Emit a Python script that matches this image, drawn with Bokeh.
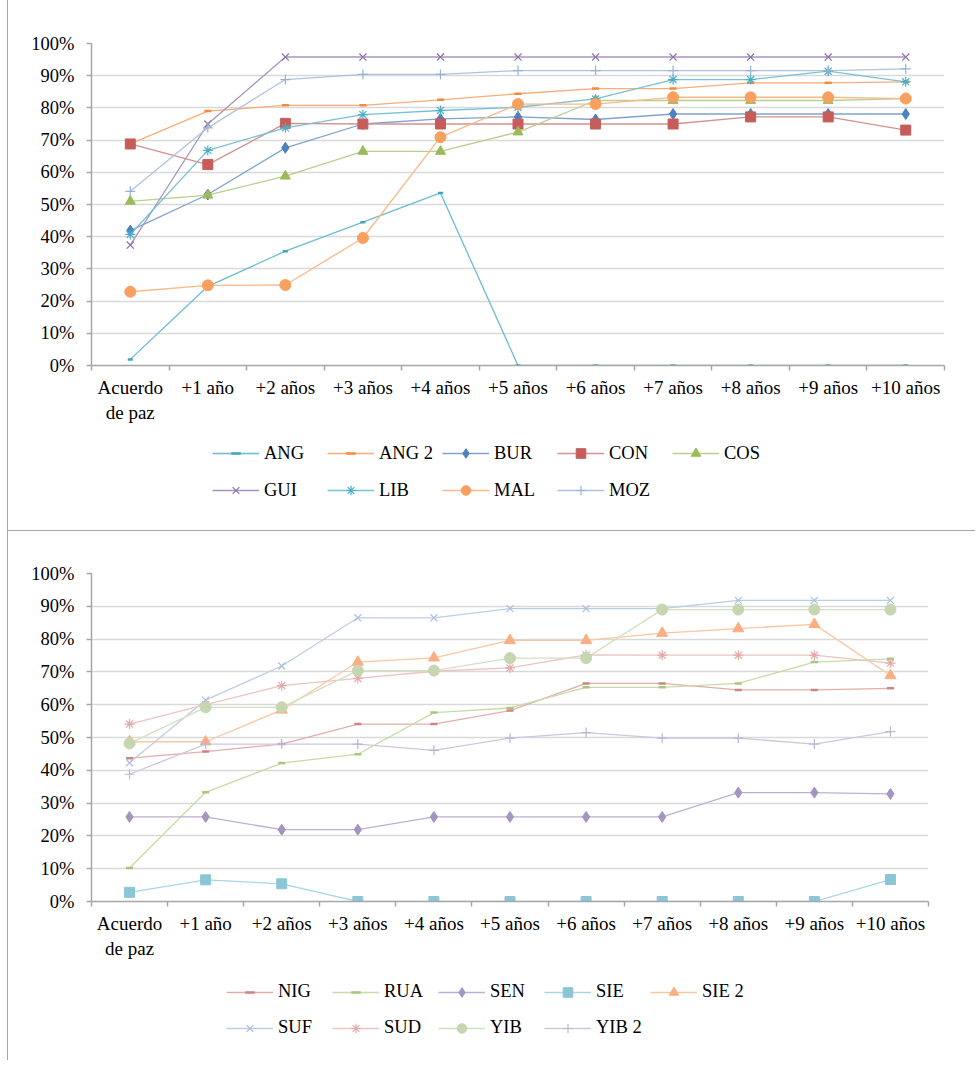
from bokeh.plotting import figure
from bokeh.models import Range1d, FixedTicker, Legend, LegendItem
from bokeh.layouts import column
from bokeh.embed import file_html
from bokeh.resources import INLINE

# ---------------- data ----------------
categories = ["Acuerdo\nde paz", "+1 año", "+2 años", "+3 años", "+4 años", "+5 años",
              "+6 años", "+7 años", "+8 años", "+9 años", "+10 años"]
y_ticks = [0, 10, 20, 30, 40, 50, 60, 70, 80, 90, 100]
y_tick_labels = ["0%", "10%", "20%", "30%", "40%", "50%", "60%", "70%", "80%", "90%", "100%"]

# top chart (percent)
ANG = [1.9, 24.6, 35.5, 44.5, 53.6, 0, 0, 0, 0, 0, 0]
ANG_2 = [68.8, 79.0, 80.8, 80.8, 82.5, 84.4, 86.0, 86.0, 87.8, 87.8, 88.1]
BUR = [41.9, 53.1, 67.6, 75.0, 76.6, 77.2, 76.4, 78.1, 78.1, 78.1, 78.1]
CON = [68.8, 62.4, 75.2, 75.0, 75.0, 75.0, 75.0, 75.0, 77.2, 77.2, 73.1]
COS = [51.0, 52.9, 58.8, 66.5, 66.5, 72.5, 82.3, 82.3, 82.3, 82.3, 82.9]
GUI = [37.4, 75.0, 95.8, 95.8, 95.8, 95.8, 95.8, 95.8, 95.8, 95.8, 95.8]
LIB = [40.7, 66.8, 73.8, 77.9, 79.2, 80.2, 82.8, 88.8, 88.8, 91.4, 88.1]
MAL = [22.9, 24.9, 25.0, 39.6, 70.9, 81.2, 81.2, 83.3, 83.3, 83.3, 82.9]
MOZ = [54.1, 73.8, 88.8, 90.4, 90.4, 91.6, 91.6, 91.6, 91.6, 91.6, 92.1]

# bottom chart (percent)
NIG = [43.7, 45.7, 48.0, 54.1, 54.1, 58.2, 66.5, 66.5, 64.5, 64.5, 65.0]
RUA = [10.2, 33.3, 42.2, 44.9, 57.6, 59.0, 65.3, 65.3, 66.5, 73.0, 74.0]
SEN = [25.8, 25.8, 21.9, 21.9, 25.8, 25.8, 25.8, 25.8, 33.2, 33.2, 32.8]
SIE = [2.8, 6.6, 5.4, 0, 0, 0, 0, 0, 0, 0, 6.7]
SIE_2 = [48.7, 48.7, 58.4, 73.0, 74.3, 79.6, 79.6, 81.8, 83.2, 84.5, 68.9]
SUF = [42.3, 61.4, 71.8, 86.5, 86.5, 89.3, 89.3, 89.3, 91.8, 91.8, 91.8]
SUD = [54.1, 60.0, 65.8, 68.0, 70.2, 71.2, 75.2, 75.1, 75.1, 75.1, 72.7]
YIB = [48.2, 59.2, 59.2, 70.4, 70.4, 74.2, 74.2, 89.0, 89.0, 89.0, 89.0]
YIB_2 = [38.8, 48.0, 48.0, 48.0, 46.1, 49.8, 51.5, 49.8, 49.8, 48.0, 51.8]

top_names = ["ANG", "ANG 2", "BUR", "CON", "COS", "GUI", "LIB", "MAL", "MOZ"]
top_series = [ANG, ANG_2, BUR, CON, COS, GUI, LIB, MAL, MOZ]
bot_names = ["NIG", "RUA", "SEN", "SIE", "SIE 2", "SUF", "SUD", "YIB", "YIB 2"]
bot_series = [NIG, RUA, SEN, SIE, SIE_2, SUF, SUD, YIB, YIB_2]

# ---------------- styles ----------------
FONT = "Liberation Serif"
BORDER = "1.5px solid #A6A6A6"
top_styles = [
    # marker, line colour, marker colour, size, marker line width
    ("dash", "#6ABCD1", "#3EA6C2", 5, 2.5),
    ("dash", "#FAAD77", "#F58A3A", 7, 2.5),
    ("diamond", "#7FA2CF", "#4F81BD", 11, 1),
    ("square", "#D6908E", "#C65D5A", 10, 1),
    ("triangle", "#B9CF8F", "#9BBB59", 10, 1),
    ("x", "#A795C0", "#8B72AB", 10, 1.2),
    ("asterisk", "#76C2D5", "#4BACC6", 10, 1.2),
    ("circle", "#FBB888", "#F8A060", 11, 1),
    ("cross", "#AFC3E0", "#95B3D7", 10, 1.2),
]
bot_styles = [
    ("dash", "#E2AEAC", "#CF8483", 7, 2.5),
    ("dash", "#C8DBA6", "#A9C77A", 7, 2.5),
    ("diamond", "#BDB0D2", "#A395C0", 11, 1),
    ("square", "#A9D6E3", "#8CC6D6", 10, 1),
    ("triangle", "#FBC6A2", "#FAAE84", 11, 1),
    ("x", "#BCCDE6", "#A9BFE0", 10, 1.2),
    ("asterisk", "#EBC3C2", "#E2AAA9", 10, 1.2),
    ("circle", "#D3E0C0", "#C6D6B0", 11, 1),
    ("cross", "#CFC6DE", "#BDB3D3", 10, 1.2),
]

x_centers = list(range(1, len(categories) + 1))
x_bounds = [i + 0.5 for i in range(0, len(categories) + 1)]


def add_series(p, xs, vals, style):
    mk, lc, mc, sz, mlw = style
    r_line = p.line(xs, vals, line_color=lc, line_width=1.3)
    if mk in ("x", "cross", "asterisk", "dash"):
        r_mk = p.scatter(xs, vals, marker=mk, size=sz, line_color=mc,
                         line_width=mlw, fill_color=None)
    else:
        r_mk = p.scatter(xs, vals, marker=mk, size=sz, line_color=mc,
                         line_width=mlw, fill_color=mc)
    return r_line, r_mk


def make_chart(series, styles, frame_w, frame_h, left, right, top, bottom):
    p = figure(frame_width=frame_w, frame_height=frame_h,
               min_border_left=left, min_border_right=right,
               min_border_top=top, min_border_bottom=bottom,
               x_range=Range1d(0.5, len(categories) + 0.5), y_range=Range1d(0, 100),
               output_backend="svg", toolbar_location=None,
               background_fill_color="white", border_fill_color="white")
    p.outline_line_color = None
    p.xgrid.grid_line_color = None
    p.ygrid.grid_line_color = "#D9D9D9"
    p.ygrid.grid_line_width = 1.5
    p.ygrid.ticker = FixedTicker(ticks=y_ticks)

    xa = p.xaxis[0]
    xa.ticker = FixedTicker(ticks=x_centers, minor_ticks=x_bounds)
    xa.major_label_overrides = {c: lab for c, lab in zip(x_centers, categories)}
    xa.axis_line_color = "#A6A6A6"
    xa.axis_line_width = 1.5
    xa.major_tick_line_color = None
    xa.major_tick_out = 0
    xa.major_tick_in = 0
    xa.minor_tick_line_color = "#A6A6A6"
    xa.minor_tick_line_width = 1.5
    xa.minor_tick_out = 5
    xa.minor_tick_in = 0
    xa.major_label_standoff = 6
    xa.major_label_text_font = FONT
    xa.major_label_text_font_size = "19px"
    xa.major_label_text_color = "black"

    ya = p.yaxis[0]
    ya.ticker = FixedTicker(ticks=y_ticks, minor_ticks=[])
    ya.major_label_overrides = {t: lab for t, lab in zip(y_ticks, y_tick_labels)}
    ya.axis_line_color = "#A6A6A6"
    ya.axis_line_width = 1.5
    ya.major_tick_line_color = "#A6A6A6"
    ya.major_tick_line_width = 1.5
    ya.major_tick_out = 5
    ya.major_tick_in = 0
    ya.minor_tick_line_color = None
    ya.major_label_standoff = 12
    ya.major_label_text_font = FONT
    ya.major_label_text_font_size = "18.5px"
    ya.major_label_text_color = "black"

    for vals, st in zip(series, styles):
        add_series(p, x_centers, vals, st)
    return p


def make_legend_fig(names, series, styles, height, loc, label_w, label_h):
    # legend-only strip: the series are attached (outside the visible range)
    lf = figure(width=968, height=height, min_border=0,
                x_range=Range1d(0, 1), y_range=Range1d(500, 501),
                x_axis_type=None, y_axis_type=None,
                output_backend="svg", toolbar_location=None,
                background_fill_color="white", border_fill_color="white")
    lf.outline_line_color = None
    lf.grid.visible = False
    items = []
    for name, vals, st in zip(names, series, styles):
        r_line, r_mk = add_series(lf, x_centers, vals, st)
        items.append(LegendItem(label=name, renderers=[r_line, r_mk]))
    legend = Legend(items=items, orientation="horizontal", ncols=5,
                    location=loc, glyph_width=47, glyph_height=24,
                    label_standoff=5, label_width=label_w, label_height=label_h,
                    spacing=7, padding=10, margin=0,
                    label_text_font=FONT, label_text_font_size="18.5px",
                    label_text_color="black",
                    border_line_color=None, background_fill_alpha=0)
    lf.add_layout(legend, "center")
    return lf


p1 = make_chart(top_series, top_styles, 852, 322, 83, 32, 43, 62)
l1 = make_legend_fig(top_names, top_series, top_styles, 103, (121, 25), 56, 30)
p2 = make_chart(bot_series, bot_styles, 836, 327, 83, 48, 42, 62)
l2 = make_legend_fig(bot_names, bot_series, bot_styles, 98, (135, 18), 47, 29)

for f in (p1, l1, l2):
    f.styles = {"border-left": BORDER, "margin-left": "7px"}
p2.styles = {"border-left": BORDER, "border-top": BORDER, "margin-left": "7px"}

layout = column(p1, l1, p2, l2, spacing=0)
open("out.html", "w").write(file_html(layout, INLINE))
